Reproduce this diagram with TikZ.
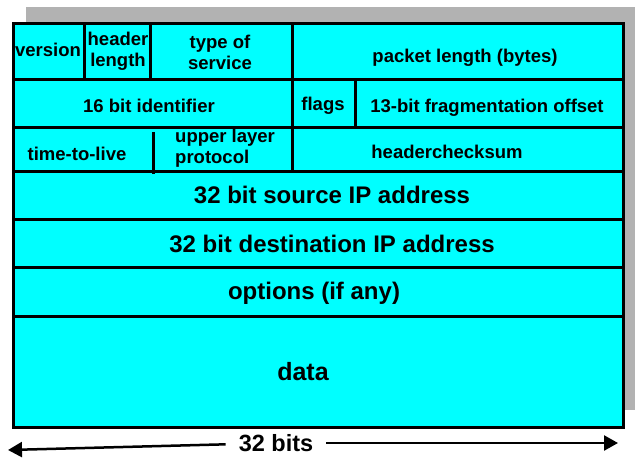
\documentclass[tikz,border=0pt]{standalone}
\usepackage{fontspec}
\setmainfont{Liberation Sans}
\usetikzlibrary{arrows.meta}
\definecolor{ipcyan}{RGB}{0,255,255}
\definecolor{shadowgray}{RGB}{178,178,178}

\begin{document}
\begin{tikzpicture}[x=1pt,y=-1pt]
\useasboundingbox (0,0) rectangle (640,464);
\fill[shadowgray] (26,7) rectangle (635,410);
\fill[ipcyan] (13,23) rectangle (623,427);

\begin{scope}[line width=3pt]
    \draw (13,79)  -- (623,79);
    \draw (13,127) -- (623,127);
    \draw (13,171) -- (623,171);
    \draw (13,219) -- (623,219);
    \draw (13,267) -- (623,267);
    \draw (13,316) -- (623,316);

    \draw (84,23)  -- (84,79);
    \draw (150,23) -- (150,79);
    \draw (292,23) -- (292,171);
    \draw (355,79) -- (355,127);
    \draw (153,132) -- (153,174);

    \draw (13,23) rectangle (623,427);
\end{scope}

\begin{scope}[every node/.style={inner sep=0pt,anchor=base,align=center,
              font=\bfseries\fontsize{18.5}{20.5}\selectfont}]
    \node (ver)   at (48,56)   {version};
    \node (hlen)  at (118,66)  {header\\length};
    \node (tos)   at (220,69)  {type of\\service};
    \node (plen)  at (465,62)  {packet length (bytes)};
    \node (ident) at (149,112) {16 bit identifier};
    \node (flags) at (323,110) {flags};
    \node (frag)  at (487,112) {13-bit fragmentation offset};
    \node (ttl)   at (77,160)  {time-to-live};
    \node[anchor=base west,align=left] (proto) at (175,163) {upper layer\\protocol};
    \node (csum)  at (447,158) {headerchecksum};
\end{scope}

\begin{scope}[every node/.style={inner sep=0pt,anchor=base,
              font=\bfseries\fontsize{24}{26}\selectfont}]
    \node (src)  at (332,203) {32 bit source IP address};
    \node (dst)  at (332,252) {32 bit destination IP address};
    \node (opt)  at (314,299) {options (if any)};
    \node[font=\bfseries\fontsize{25}{27}\selectfont] (data) at (303,380) {data};
\end{scope}

\coordinate (lefttip)  at (8,450);
\coordinate (righttip) at (618,443);
\node[font=\bfseries\fontsize{23.5}{25}\selectfont,inner xsep=13pt] (bits) at (276,443) {32 bits};

\begin{scope}[>={Triangle[length=14pt,width=15pt]},
              every edge/.style={draw,line width=2.5pt}]
    \path [->] (bits) edge (lefttip);
    \path [->] (bits) edge (righttip);
\end{scope}
\end{tikzpicture}
\end{document}
